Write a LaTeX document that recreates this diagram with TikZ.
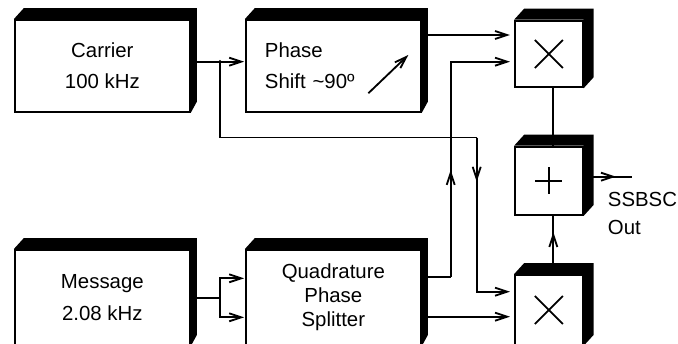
\documentclass[tikz,border=0pt]{standalone}
\usepackage{fontspec}
\setmainfont{Liberation Sans}
\usetikzlibrary{arrows.meta,positioning,calc}

\begin{document}
\begin{tikzpicture}[x=0.025cm,y=-0.025cm,line width=1.3pt,
    blk/.style={draw,fill=white,inner sep=0pt,align=center,
                font=\fontsize{14.5}{22.5}\selectfont},
    wideblk/.style={blk,minimum width=4.38cm,minimum height=2.29cm},
    sqblk/.style={blk,minimum width=1.69cm,minimum height=1.67cm},
    sig/.style={-{Straight Barb[length=0.3cm,width=0.2cm]}},
    lbl/.style={inner sep=0pt,align=left,font=\fontsize{14.5}{20}\selectfont}]
    \useasboundingbox (0,0) rectangle (678,343);
    \node[wideblk] (carrier) at (102.35,65.85) {Carrier\\100 kHz};
    \node[wideblk,align=left,text width=3.42cm] (phase) at (333.35,65.85)
        {Phase\\Shift \textasciitilde90º};
    \node[wideblk,minimum height=2.375cm] (message) at (102.35,297.5) {Message\\2.08 kHz};
    \node[wideblk,minimum height=2.375cm,font=\fontsize{14.5}{17}\selectfont] (splitter)
        at (333.35,297.5) {Quadrature\\Phase\\Splitter};
    \node[sqblk] (mixa) at (548.85,54) {};
    \node[sqblk,minimum height=1.71cm] (adder) at (548.85,180.85) {};
    \node[sqblk,minimum height=1.75cm] (mixb) at (548.85,310) {};
    \node[lbl,anchor=north west] (outlbl) at (607,191) {SSBSC\\Out};
    \foreach \n/\d in {carrier/6,phase/6,message/6,splitter/6,mixa/10,adder/10,mixb/10}{
        \fill (\n.north west) -- ++(10,-11) -- ($(\n.north east)+(\d,-11)$)
            -- ($(\n.south east)+(\d,-11)$) -- (\n.south east) -- (\n.north east) -- cycle;}
    \foreach \n in {mixa,mixb}{
        \draw ($(\n.center)+(-14,-14)$) -- ($(\n.center)+(14,14)$);
        \draw ($(\n.center)+(-14,14)$) -- ($(\n.center)+(14,-14)$);}
    \draw ($(adder.center)+(-13.5,0)$) -- ($(adder.center)+(13.5,0)$);
    \draw ($(adder.center)+(0,-13.5)$) -- ($(adder.center)+(0,13.5)$);
    \draw[sig] ($(phase.center)+(35,27.4)$) -- ($(phase.center)+(75,-10.9)$);
    \coordinate (tap) at (220,61.7);
    \coordinate (cdrop) at (476.7,137.5);
    \coordinate (qrise) at (450.7,277.3);
    \coordinate (msplit) at (220,297.7);
    \coordinate (ain1) at ($(mixa.west)+(0,-19)$);
    \coordinate (ain2) at ($(mixa.west)+(0,7.7)$);
    \coordinate (bin1) at ($(mixb.west)+(0,-18.3)$);
    \coordinate (bin2) at ($(mixb.west)+(0,6.7)$);
    \coordinate (sumx) at ($(mixa.south)+(4.5,0)$);
    \coordinate (outend) at (631.7,176.7);
    \draw (carrier.east |- tap) -- (tap);
    \draw[sig,shorten >=0.5pt] (tap) -- (phase.west |- tap);
    \fill (tap) circle (1.3pt);
    \draw (tap) |- (cdrop);
    \draw[sig] (cdrop) -- ++(0,44.2);
    \draw[sig,shorten >=3pt] (cdrop) |- (bin1);
    \draw[sig,shorten >=3pt] (phase.east |- ain1) -- (ain1);
    \draw (splitter.east |- qrise) -- (qrise);
    \draw[sig] (qrise) -- ++(0,-107.3);
    \draw[sig,shorten >=3pt] (qrise) |- (ain2);
    \draw[sig,shorten >=3pt] (splitter.east |- bin2) -- (bin2);
    \draw (message.east |- msplit) -- (msplit);
    \draw[sig,shorten >=0.5pt] (msplit) |- ($(splitter.west)+(0,-19.2)$);
    \draw[sig,shorten >=0.5pt] (msplit) |- ($(splitter.west)+(0,19.8)$);
    \draw (sumx) -- (sumx |- adder.north);
    \draw[sig] (mixb.north -| sumx) -- ++(0,-42);
    \draw (mixb.north -| sumx) -- (adder.south -| sumx);
    \draw (adder.east |- outend) -- (outend);
    \draw[sig] (adder.east |- outend) -- ++(32.3,0);
\end{tikzpicture}
\end{document}
